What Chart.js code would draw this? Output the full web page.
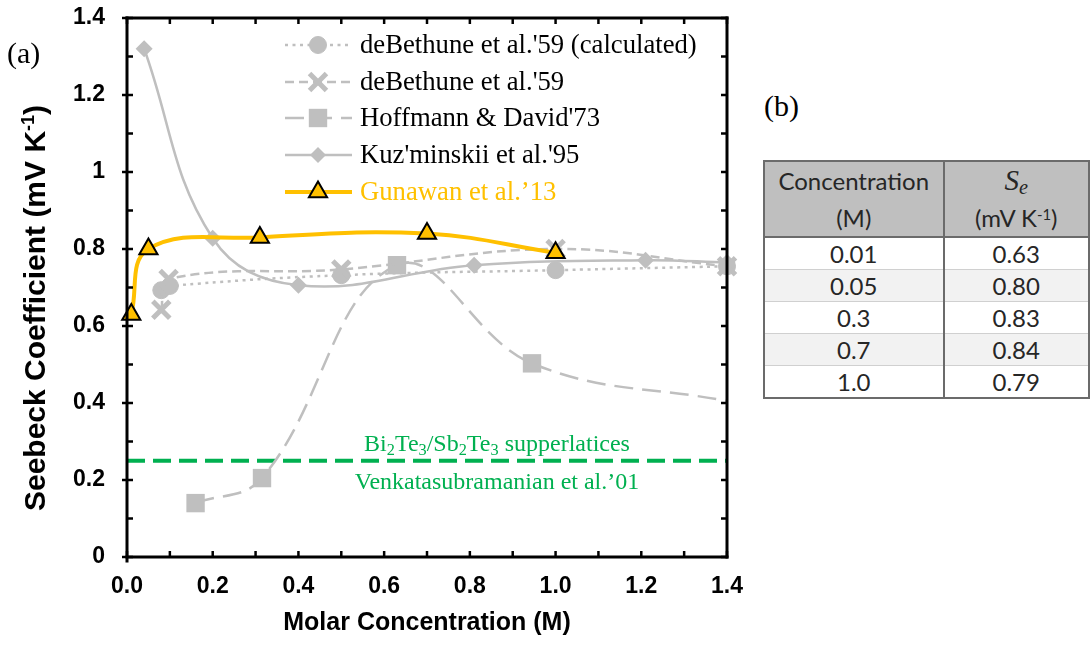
<!DOCTYPE html>
<html>
<head>
<meta charset="utf-8">
<script src="https://cdn.jsdelivr.net/npm/chart.js@4/dist/chart.umd.min.js"></script>
<style>
html,body{margin:0;padding:0;background:#fff;overflow:hidden;width:1090px;height:652px;}
#wrap{position:relative;width:1090px;height:652px;overflow:hidden;}
#c{position:absolute;left:0;top:0;}
.lbl{position:absolute;font-family:"Liberation Serif","Times New Roman",serif;white-space:nowrap;line-height:1;}
.green{color:#00B050;font-size:24px;transform:translateX(-50%);}
.green sub{font-size:0.68em;vertical-align:-0.22em;line-height:0;}
#tbl{position:absolute;left:763px;top:160px;border-collapse:collapse;table-layout:fixed;font-family:Lato,"Open Sans",sans-serif;color:#262626;border:2px solid #6b6b6b;}
#tbl td,#tbl th{padding:0;text-align:center;font-weight:normal;}
#tbl th{background:#BFBFBF;height:69px;font-size:24px;line-height:37px;vertical-align:middle;border-bottom:2px solid #6b6b6b;}
#tbl td{height:31px;font-size:24px;line-height:31px;border-top:1px solid #d0d0d0;}
#tbl .c1{border-right:2px solid #6b6b6b;}
#tbl tr.alt td{background:#F2F2F2;}
.se{font-family:"Liberation Serif",serif;font-style:italic;font-size:29px;}
.se sub{font-size:0.7em;vertical-align:-0.2em;line-height:0;}
.unit sup{font-size:0.62em;vertical-align:0.5em;line-height:0;}
</style>
</head>
<body>
<div id="wrap">
<canvas id="c" width="760" height="652"></canvas>
<div class="lbl" style="left:7px;top:38px;font-size:30px;">(a)</div>
<div class="lbl" style="left:764px;top:91px;font-size:30px;">(b)</div>
<div class="lbl green" style="left:497px;top:431px;">Bi<sub>2</sub>Te<sub>3</sub>/Sb<sub>2</sub>Te<sub>3</sub> supperlatices</div>
<div class="lbl green" style="left:497px;top:469px;">Venkatasubramanian et al.’01</div>
<table id="tbl">
<colgroup><col style="width:185px"><col style="width:165px"></colgroup>
<thead><tr><th class="c1">Concentration<br>(M)</th><th><span class="se">S<sub>e</sub></span><br><span class="unit">(mV K<sup>-1</sup>)</span></th></tr></thead>
<tbody id="tbody"></tbody>
</table>
</div>
<script>
// ---- data ----
const calcX = [0.08, 0.10, 0.50, 1.00, 1.40];
const calcY = [0.693, 0.704, 0.732, 0.745, 0.755];

const debX = [0.08, 0.097, 0.50, 1.00, 1.40];
const debY = [0.642, 0.722, 0.747, 0.80, 0.755];

const hofX = [0.16, 0.315, 0.63, 0.945, 1.40];
const hofY = [0.14, 0.205, 0.758, 0.503, 0.405];

const kuzX = [0.04, 0.20, 0.40, 0.81, 1.21, 1.40];
const kuzY = [1.32, 0.828, 0.706, 0.758, 0.771, 0.765];

const gunX = [0.01, 0.05, 0.31, 0.70, 1.00];
const gunY = [0.63, 0.80, 0.83, 0.84, 0.79];

const refX = [0, 1.4];
const refY = [0.25, 0.25];

const tableConc = ['0.01', '0.05', '0.3', '0.7', '1.0'];
const tableSe = ['0.63', '0.80', '0.83', '0.84', '0.79'];

const seriesLabels = ["deBethune et al.'59 (calculated)", "deBethune et al.'59", "Hoffmann & David'73", "Kuz'minskii et al.'95", "Gunawan et al.’13"];

// ---- table ----
const tb = document.getElementById('tbody');
tableConc.forEach((c, i) => {
  const tr = document.createElement('tr');
  if (i % 2 === 1) tr.className = 'alt';
  const a = document.createElement('td'); a.className = 'c1'; a.textContent = c;
  const b = document.createElement('td'); b.textContent = tableSe[i];
  tr.appendChild(a); tr.appendChild(b); tb.appendChild(tr);
});

const pts = (xs, ys) => xs.map((x, i) => ({x: x, y: ys[i]}));
const GRAY = '#BFBFBF', YEL = '#FFC000', GRN = '#00B050';

const datasets = [
  {label: seriesLabels[0], data: pts(calcX, calcY), borderColor: GRAY, borderWidth: 2.5, borderDash: [3, 4.5],
   pointStyle: 'circle', pointRadius: 8.5, legendRadius: 8.5, pointBackgroundColor: GRAY, pointBorderColor: GRAY, pointBorderWidth: 1, order: 4},
  {label: seriesLabels[1], data: pts(debX, debY), borderColor: GRAY, borderWidth: 2.5, borderDash: [9, 5],
   pointStyle: 'crossRot', pointRadius: 12, legendRadius: 12, pointBackgroundColor: GRAY, pointBorderColor: GRAY, pointBorderWidth: 5, order: 1},
  {label: seriesLabels[2], data: pts(hofX, hofY), borderColor: GRAY, borderWidth: 2.5, borderDash: [19, 9],
   pointStyle: 'rect', pointRadius: [13, 13, 13, 13, 0], legendRadius: 13, pointBackgroundColor: GRAY, pointBorderColor: GRAY, pointBorderWidth: 0, order: 2},
  {label: seriesLabels[3], data: pts(kuzX, kuzY), borderColor: GRAY, borderWidth: 2.5, borderDash: [],
   pointStyle: 'rectRot', pointRadius: 8.5, legendRadius: 8, pointBackgroundColor: GRAY, pointBorderColor: GRAY, pointBorderWidth: 0, order: 3},
  {label: seriesLabels[4], data: pts(gunX, gunY), borderColor: YEL, borderWidth: 4, borderDash: [],
   pointStyle: 'triangle', pointRadius: 10.5, legendRadius: 10.5, pointBackgroundColor: YEL, pointBorderColor: '#000', pointBorderWidth: 2, order: 0, legendColor: YEL},
  {label: 'ref', data: pts(refX, refY), borderColor: GRN, borderWidth: 4, borderDash: [18, 8],
   pointRadius: 0, tension: 0, order: 5}
];
datasets.forEach(d => { d.showLine = true; d.clip = false; d.fill = false; if (d.tension === undefined) d.tension = 0.4; d.borderCapStyle = 'butt'; });

function drawFrame(chart) {
  const ctx = chart.ctx, a = chart.chartArea, x = chart.scales.x, y = chart.scales.y;
  ctx.save();
  ctx.setLineDash([]);
  ctx.strokeStyle = '#000';
  ctx.lineCap = 'square';
  const ln = (x1, y1, x2, y2) => { ctx.beginPath(); ctx.moveTo(x1, y1); ctx.lineTo(x2, y2); ctx.stroke(); };
  ctx.lineWidth = 3;
  ln(a.left, a.top, a.right, a.top);
  ln(a.right, a.top, a.right, a.bottom);
  ln(a.left, a.bottom, a.right, a.bottom);
  ln(a.left, a.top, a.left, a.bottom + 4);
  ctx.lineCap = 'butt';
  ctx.lineWidth = 2.5;
  x.ticks.forEach(t => {
    const px = x.getPixelForValue(t.value);
    ln(px, a.bottom, px, a.bottom - 6);
    ln(px, a.top, px, a.top + 6);
  });
  y.ticks.forEach(t => {
    const py = y.getPixelForValue(t.value);
    const major = Math.round(t.value * 10) % 2 === 0;
    ln(a.left - (major ? 5 : 0), py, a.left + 6, py);
    ln(a.right - 6, py, a.right, py);
  });
  ctx.restore();
}

function drawYTitle(chart) {
  const ctx = chart.ctx;
  const big = 'bold 30px "Liberation Sans", Arial, sans-serif';
  const small = 'bold 18px "Liberation Sans", Arial, sans-serif';
  const parts = [['Seebeck Coefficient (mV K', big, 0], ['-1', small, -11], [')', big, 0]];
  ctx.save();
  let total = 0;
  parts.forEach(p => { ctx.font = p[1]; p.push(ctx.measureText(p[0]).width); total += p[3]; });
  ctx.translate(45, 308);
  ctx.rotate(-Math.PI / 2);
  ctx.fillStyle = '#000';
  ctx.textBaseline = 'alphabetic';
  ctx.textAlign = 'left';
  let cx = -total / 2;
  parts.forEach(p => { ctx.font = p[1]; ctx.fillText(p[0], cx, p[2]); cx += p[3]; });
  ctx.restore();
}

function drawLegend(chart) {
  const ctx = chart.ctx;
  const rows = [45, 82, 118, 155, 192];
  [0, 1, 2, 3, 4].forEach((idx, i) => {
    const ds = chart.data.datasets[idx];
    const y = rows[i];
    ctx.save();
    ctx.strokeStyle = ds.borderColor; ctx.lineWidth = ds.borderWidth;
    ctx.setLineDash(ds.borderDash || []); ctx.lineCap = 'butt';
    ctx.beginPath(); ctx.moveTo(285, y); ctx.lineTo(352, y); ctx.stroke();
    ctx.setLineDash([]);
    ctx.fillStyle = ds.pointBackgroundColor; ctx.strokeStyle = ds.pointBorderColor; ctx.lineWidth = ds.pointBorderWidth;
    if (Chart.helpers && Chart.helpers.drawPoint) {
      Chart.helpers.drawPoint(ctx, {pointStyle: ds.pointStyle, radius: ds.legendRadius, borderWidth: ds.pointBorderWidth, rotation: 0}, 318, y);
    }
    ctx.fillStyle = ds.legendColor || '#000';
    ctx.font = '26.7px "Liberation Serif"';
    ctx.textBaseline = 'middle';
    ctx.fillText(ds.label, 360, y + 1);
    ctx.restore();
  });
}

const decorPlugin = {
  id: 'decor',
  afterDraw(chart) { drawFrame(chart); drawYTitle(chart); drawLegend(chart); }
};

const tickFont = {family: '"Liberation Sans", Arial, sans-serif', weight: 'bold', size: 23};
const titleFont = {family: '"Liberation Sans", Arial, sans-serif', weight: 'bold', size: 25};

new Chart(document.getElementById('c'), {
  type: 'line',
  data: {datasets: datasets},
  options: {
    responsive: false,
    animation: false,
    devicePixelRatio: 1,
    events: [],
    layout: {padding: {left: 0, right: 33, top: 18, bottom: 0}},
    plugins: {legend: {display: false}, tooltip: {enabled: false}},
    scales: {
      x: {
        type: 'linear', min: 0, max: 1.4,
        grid: {display: false, drawTicks: false}, border: {display: false},
        ticks: {stepSize: 0.1, autoSkip: false, maxRotation: 0, padding: 16, color: '#000', font: tickFont,
          callback: v => { const k = Math.round(v * 10); return k % 2 === 0 ? (k / 10).toFixed(1) : ''; }},
        title: {display: true, text: 'Molar Concentration (M)', color: '#000', font: titleFont, padding: {top: 0, bottom: 14}},
        afterFit: s => { s.height = 95; s.paddingLeft = 0; s.paddingRight = 0; }
      },
      y: {
        type: 'linear', min: 0, max: 1.4,
        grid: {display: false, drawTicks: false}, border: {display: false},
        ticks: {stepSize: 0.1, autoSkip: false, padding: 22, color: '#000', font: tickFont,
          callback: v => { const k = Math.round(v * 10); return k % 2 === 0 ? String(+(k / 10).toFixed(1)) : ''; }},
        title: {display: false, text: 'Seebeck Coefficient (mV K⁻¹)'},
        afterFit: s => { s.width = 127; s.paddingTop = 0; s.paddingBottom = 0; }
      }
    }
  },
  plugins: [decorPlugin]
});
</script>
</body>
</html>
